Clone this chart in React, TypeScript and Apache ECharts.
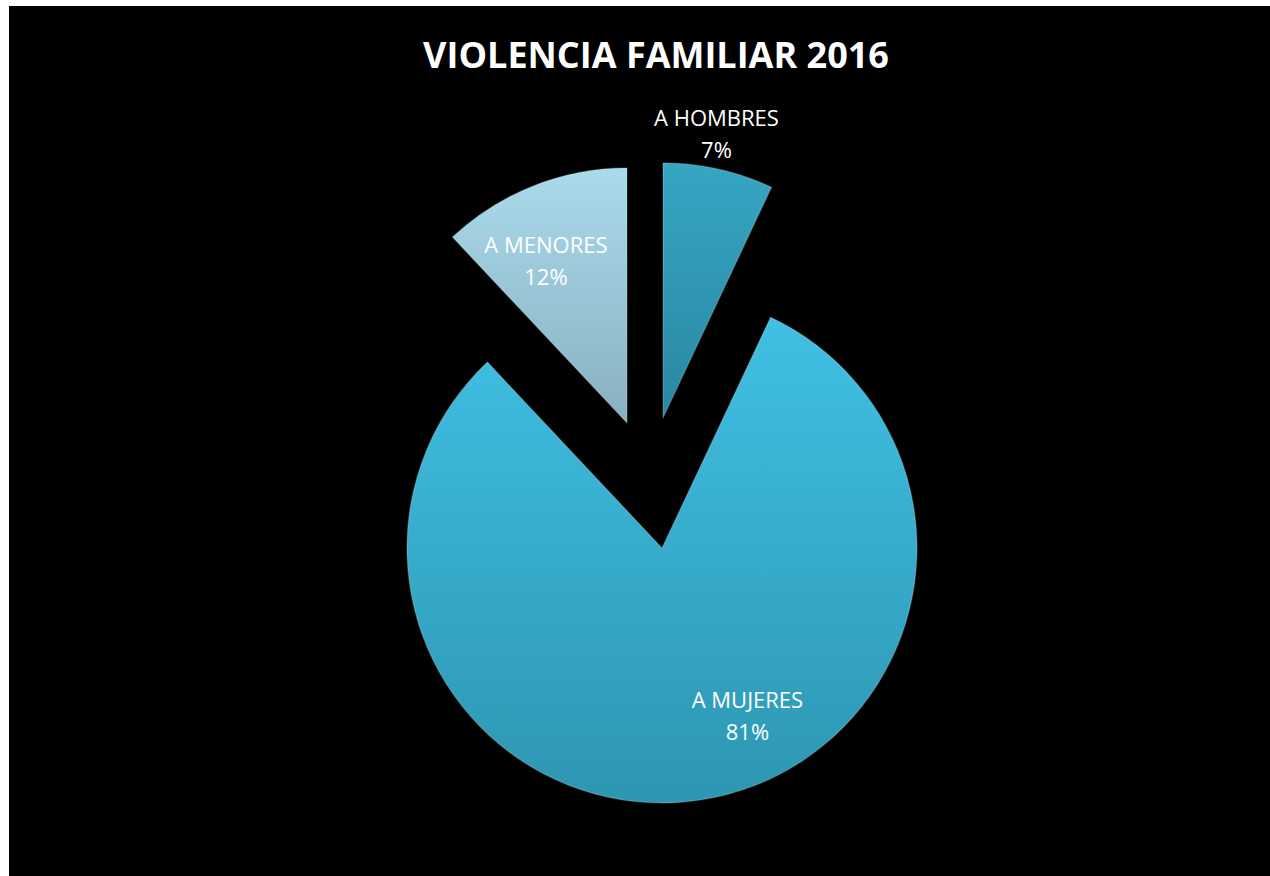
import React, { useEffect, useRef } from "react";
import * as echarts from "echarts";

const TITLE = "VIOLENCIA FAMILIAR 2016";
const categories = ["A HOMBRES", "A MUJERES", "A MENORES"];
const values = [7, 81, 12];
const topColors = ["#35A6C3", "#40C0E4", "#AADAEC"];
const bottomColors = ["#2A87A1", "#2D96B1", "#88B1C0"];
// centre of each exploded slice (chart coords) and label nudges
const sliceCenters = [
  [654, 412],
  [653, 542],
  [618, 417],
];
const labelNudges = [
  [25, -158],
  [65, 38],
  [-33, -42],
];

export default function App() {
  const ref = useRef<HTMLDivElement>(null);
  useEffect(() => {
    if (!ref.current) return;
    const chart = echarts.init(ref.current, null, { renderer: "svg" });
    const series = categories.map((_, si) => ({
      type: "pie",
      center: sliceCenters[si],
      radius: [0, 255],
      startAngle: 90,
      clockwise: true,
      silent: true,
      avoidLabelOverlap: false,
      labelLine: { show: false },
      labelLayout: { dx: labelNudges[si][0], dy: labelNudges[si][1] },
      data: categories.map((name, i) => ({
        name,
        value: values[i],
        itemStyle:
          i === si
            ? {
                color: new echarts.graphic.LinearGradient(0, 0, 0, 1, [
                  { offset: 0, color: topColors[i] },
                  { offset: 1, color: bottomColors[i] },
                ]),
                borderColor: "rgba(255,255,255,0.18)",
                borderWidth: 1.5,
              }
            : { color: "rgba(0,0,0,0)", borderWidth: 0 },
        label:
          i === si
            ? {
                show: true,
                position: "inside",
                formatter: "{b}\n{d}%",
                color: "#ffffff",
                fontFamily: "Open Sans",
                fontSize: 22,
                lineHeight: 32,
                align: "center",
              }
            : { show: false },
      })),
    }));
    chart.setOption({
      animation: false,
      backgroundColor: "#000000",
      title: {
        text: TITLE,
        left: 642,
        textAlign: "center",
        top: 25,
        textStyle: {
          color: "#ffffff",
          fontFamily: "Open Sans",
          fontWeight: "bold",
          fontSize: 36,
        },
      },
      series,
    });
    return () => chart.dispose();
  }, []);
  return (
    <div
      ref={ref}
      style={{ position: "absolute", left: 9, top: 6, width: 1261, height: 870 }}
    />
  );
}
